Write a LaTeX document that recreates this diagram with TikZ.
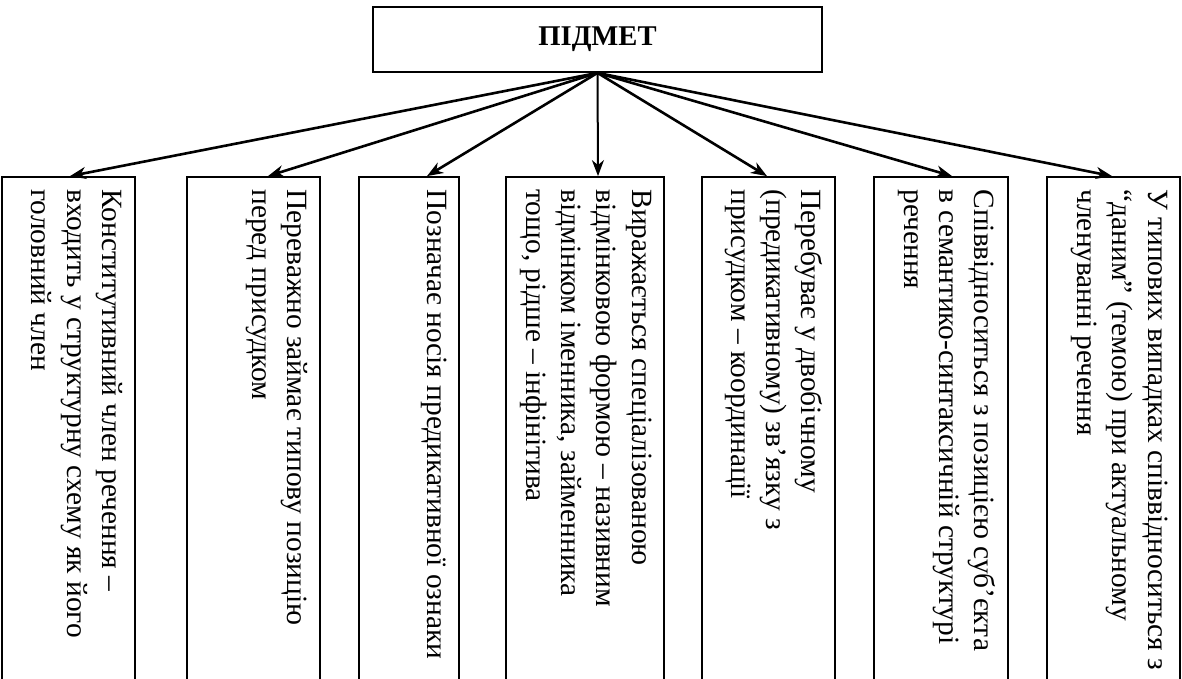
\documentclass[tikz,border=0pt]{standalone}
\usepackage{fontspec}
\setmainfont{Liberation Serif}
\usetikzlibrary{arrows.meta}

\tikzstyle{topbox} = [draw,line width=0.9pt,minimum width=224.5pt,minimum height=32.5pt,font=\fontsize{14.3}{17}\selectfont\bfseries]
\tikzstyle{leaf} = [draw,line width=0.9pt,minimum height=253.5pt,inner sep=0pt]
\tikzstyle{leaftext} = [rotate=-90,anchor=north west,align=left,inner sep=0pt,font=\fontsize{14.7}{17.6}\selectfont]
\tikzstyle{edge} = [draw,line width=1.3pt,-{Stealth[length=8pt,width=6pt,inset=2.5pt]}]
\tikzstyle{thin edge} = [draw,line width=1pt,-{Stealth[length=8pt,width=6pt,inset=2.5pt]}]

\begin{document}
\begin{tikzpicture}[x=0.5pt,y=-0.5pt]
  \useasboundingbox (0,0) rectangle (1182,679);
  % nodes
  \node[topbox] (top) at (597.5,39.5) {ПІДМЕТ};
  \foreach \nodename/\x/\w/\desc in {
    b1/68.5/66.5/{Конститутивний член речення –\\входить у структурну схему як його\\головний член},
    b2/253.5/66.5/{Переважно займає типову позицію\\перед присудком},
    b3/409/50/{Позначає носія предикативної ознаки},
    b4/585/79/{Виражається спеціалізованою\\відмінковою формою – називним\\відмінком іменника, займенника\\тощо, рідше – інфінітива},
    b5/768.5/66.5/{Перебуває у двобічному\\(предикативному) зв’язку з\\присудком – координації},
    b6/941/67/{Співвідноситься з позицією суб’єкта\\в семантико-синтаксичній структурі\\речення},
    b7/1113.5/66.5/{У типових випадках співвідноситься з\\“даним” (темою) при актуальному\\членуванні речення}}
  {
    \node[leaf, minimum width=\w pt] (\nodename) at (\x,430.5) {};
    \node[leaftext] (\nodename t) at ([xshift=-6.5pt,yshift=-6.5pt]\nodename.north east) {\desc};
  };
  %edges
  \path
  \foreach \endnode/\shift in {b1/0.75, b2/7.25, b3/9, b5/-0.75, b6/5.5, b7/-0.75}
  {
    (top.south) edge[edge] ([xshift=\shift pt]\endnode.north)
  };
  \path (top.south) edge[thin edge] ([xshift=6.5pt]b4.north);
\end{tikzpicture}
\end{document}
